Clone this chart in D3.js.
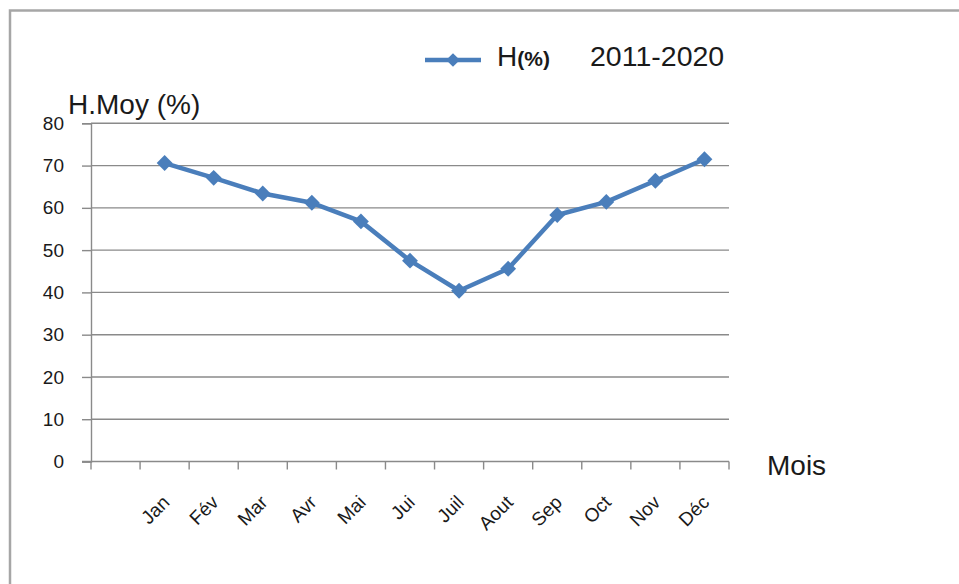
<!DOCTYPE html>
<html>
<head>
<meta charset="utf-8">
<script src="https://cdn.jsdelivr.net/npm/d3@7/dist/d3.min.js"></script>
<style>
  html, body { margin: 0; padding: 0; background: #fff; }
  svg { display: block; font-family: "Liberation Sans", Arial, sans-serif; }
</style>
</head>
<body>
<svg id="chart" width="959" height="584"></svg>
<script>
// Humidité moyenne mensuelle 2011-2020
const months = ["", "Jan", "Fév", "Mar", "Avr", "Mai", "Jui", "Juil", "Aout", "Sep", "Oct", "Nov", "Déc"];
const humidity = [null, 70.6, 67.1, 63.4, 61.2, 56.8, 47.5, 40.4, 45.6, 58.3, 61.4, 66.4, 71.5];
const yTicks = [0, 10, 20, 30, 40, 50, 60, 70, 80];

const svg = d3.select("#chart");
const blue = "#4a7ebb";
const grey = "#8a8a8a";
const ink = "#1a1a1a";

// outer frame (top and left edges)
svg.append("path")
  .attr("d", "M10,584 V10.5 H959")
  .attr("fill", "none")
  .attr("stroke", "#a6a6a6")
  .attr("stroke-width", 2.5);

const plot = { left: 91, right: 729, top: 123.3, bottom: 461.5 };

const x = d3.scaleBand().domain(months.map((m, i) => i)).range([plot.left, plot.right]);
const y = d3.scaleLinear().domain([0, 80]).range([plot.bottom, plot.top]);

// horizontal gridlines
svg.append("g")
  .selectAll("line")
  .data(yTicks.filter(t => t > 0))
  .join("line")
  .attr("x1", plot.left).attr("x2", plot.right)
  .attr("y1", d => y(d)).attr("y2", d => y(d))
  .attr("stroke", grey).attr("stroke-width", 1.4);

// y axis
const yAxis = svg.append("g")
  .attr("transform", `translate(${plot.left},0)`)
  .call(d3.axisLeft(y).tickValues(yTicks).tickSize(9).tickPadding(18));
yAxis.select(".domain").attr("stroke", grey).attr("stroke-width", 1.4);
yAxis.selectAll(".tick line").attr("stroke", grey).attr("stroke-width", 1.4);
yAxis.selectAll(".tick text")
  .attr("font-size", 19).attr("fill", ink)
  .attr("font-family", "'Liberation Sans', Arial, sans-serif");

// x axis: ticks on category boundaries
const bounds = d3.range(months.length + 1).map(i => plot.left + i * x.step());
const xg = svg.append("g");
xg.append("line")
  .attr("x1", plot.left - 9).attr("x2", plot.right)
  .attr("y1", plot.bottom).attr("y2", plot.bottom)
  .attr("stroke", grey).attr("stroke-width", 1.4);
xg.selectAll("line.tk")
  .data(bounds)
  .join("line")
  .attr("class", "tk")
  .attr("x1", d => d).attr("x2", d => d)
  .attr("y1", plot.bottom).attr("y2", plot.bottom + 8)
  .attr("stroke", grey).attr("stroke-width", 1.4);

// rotated month labels
xg.selectAll("text")
  .data(months.map((m, i) => ({ m, i })).filter(d => d.m))
  .join("text")
  .attr("transform", d => `translate(${x(d.i) + x.bandwidth() / 2 + 6},${plot.bottom + 42}) rotate(-45)`)
  .attr("text-anchor", "end")
  .attr("font-size", 19)
  .attr("fill", ink)
  .text(d => d.m);

// series line
const pts = humidity.map((v, i) => ({ i, v })).filter(d => d.v != null);
const line = d3.line()
  .x(d => x(d.i) + x.bandwidth() / 2)
  .y(d => y(d.v));

svg.append("path")
  .datum(pts)
  .attr("d", line)
  .attr("fill", "none")
  .attr("stroke", blue)
  .attr("stroke-width", 4.5)
  .attr("stroke-linejoin", "round");

// diamond markers
const diamond = d3.symbol().type(d3.symbolDiamond2).size(160);
svg.append("g")
  .selectAll("path")
  .data(pts)
  .join("path")
  .attr("transform", d => `translate(${x(d.i) + x.bandwidth() / 2},${y(d.v)})`)
  .attr("d", diamond)
  .attr("fill", blue);

// axis titles
svg.append("text")
  .attr("x", 68).attr("y", 114)
  .attr("font-size", 28).attr("fill", ink)
  .text("H.Moy (%)");

svg.append("text")
  .attr("x", 767).attr("y", 475)
  .attr("font-size", 28).attr("fill", ink)
  .text("Mois");

// legend
const lg = svg.append("g");
lg.append("line")
  .attr("x1", 425).attr("x2", 481).attr("y1", 60).attr("y2", 60)
  .attr("stroke", blue).attr("stroke-width", 4.5);
lg.append("path")
  .attr("transform", "translate(453,60)")
  .attr("d", d3.symbol().type(d3.symbolDiamond2).size(120))
  .attr("fill", blue);
const lt = lg.append("text")
  .attr("x", 497).attr("y", 66)
  .attr("font-size", 28).attr("fill", ink);
lt.append("tspan").text("H");
lt.append("tspan").attr("font-size", 21).attr("font-weight", "bold").text("(%)");
lg.append("text")
  .attr("x", 590).attr("y", 66)
  .attr("font-size", 28.5).attr("fill", ink)
  .text("2011-2020");
</script>
</body>
</html>
